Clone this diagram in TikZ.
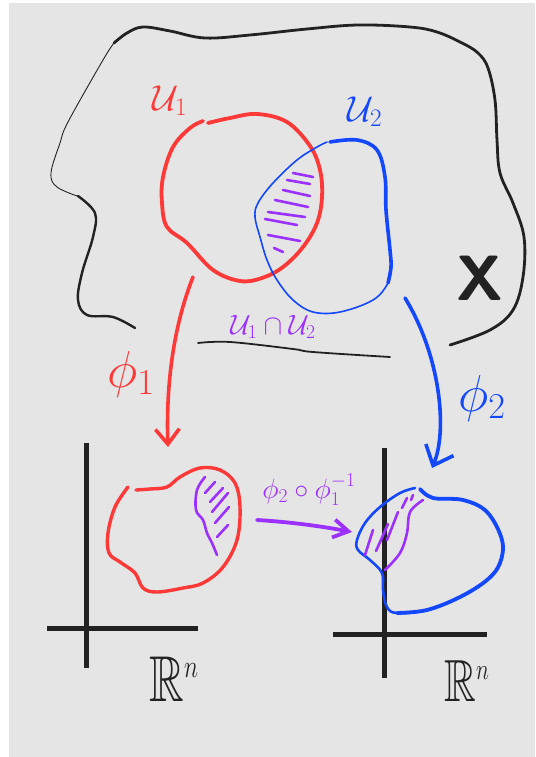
\RequirePackage{fix-cm}
\documentclass[tikz,border=0pt]{standalone}
\usepackage{amssymb}
\usepackage{graphicx}
\usetikzlibrary{arrows.meta}
\definecolor{bg}{HTML}{E5E5E5}
\definecolor{pred}{HTML}{FF3838}
\definecolor{pblue}{HTML}{1448FF}
\definecolor{ppur}{HTML}{9B30FF}
\definecolor{ink}{HTML}{222222}
\begin{document}
\begin{tikzpicture}[x=1pt,y=-1pt,line cap=round,line join=round,
  inkline/.style={ink,line width=#1},
  hatch/.style={ppur,line width=2.6pt},
  lbl/.style={inner sep=0pt,outer sep=0pt},
  axis/.style={ink,line width=5pt,line cap=butt},
  redarrow/.style={pred,line width=3.6pt,-{Straight Barb[length=15pt,width=24pt]}},
  bluearrow/.style={pblue,line width=3.6pt,-{Straight Barb[length=17pt,width=30pt]}},
  purarrow/.style={ppur,line width=3.8pt,-{Straight Barb[length=15pt,width=18pt]}}]
\useasboundingbox (0,0) rectangle (535,757);
\fill[bg] (9,3) rectangle (535,757);

% outline of X
\draw[inkline=2.8pt] plot[smooth,tension=0.6] coordinates {(114,43) (127,33) (143,27) (170,31) (205,38) (250,35) (307,29) (358,25) (410,27) (437,32) (462,43) (478,53) (488,68) (495,100) (497,140) (500,173) (513,203) (524,237) (523,277) (513,310) (490,330) (450,345)};
\draw[inkline=0.9pt] plot[smooth,tension=0.6] coordinates {(114,43) (103,60) (68,122) (60,143) (51,173) (57,187) (80,197)};
\draw[inkline=2.4pt] plot[smooth,tension=0.6] coordinates {(78,196) (95,213) (93,237) (82,273) (78,300) (87,315) (113,317) (135,328)};
\node[lbl,ink,font=\fontsize{64}{64}\selectfont\sffamily\bfseries] (lx) at (480,278) {X};

% U1
\draw[pred,line width=3.8pt] plot[smooth,tension=0.6] coordinates {(208,123) (230,118) (257,114) (287,122) (310,146) (320,170) (322,197) (317,223) (303,247) (283,267) (262,278) (240,281) (213,270) (187,243) (167,227) (162,203) (163,177) (173,147) (190,128) (203,121)};
\node[lbl,pred,font=\fontsize{36}{36}\selectfont] (lu1) at (170,101) {$\mathcal{U}_{1}$};

% U2
\draw[pblue,line width=1.6pt] plot[smooth,tension=0.6] coordinates {(330,142) (357,140) (377,150) (385,177) (386,210) (390,250) (391,267) (388,283) (373,300) (340,312) (313,312) (293,300) (277,280) (267,260) (260,237) (255,217) (258,203) (273,183) (297,160) (317,147) (327,142)};
\draw[pblue,line width=3.6pt] plot[smooth,tension=0.6] coordinates {(330,142) (357,140) (377,150) (385,177) (386,210) (390,250) (391,267) (388,283)};
\node[lbl,pblue,font=\fontsize{36}{36}\selectfont] (lu2) at (365,112) {$\mathcal{U}_{2}$};

% intersection hatching
\draw[hatch] (293,173) -- (313,177);
\draw[hatch] (287,180) -- (310,184);
\draw[hatch] (283,190) -- (310,196);
\draw[hatch] (275,200) -- (308,207);
\draw[hatch] (268,212) -- (305,217);
\draw[hatch] (265,219) -- (297,225);
\draw[hatch] (268,235) -- (300,241);
\draw[hatch] (274,248) -- (283,252);

% label U1 cap U2
\draw[inkline=1.8pt] plot[smooth,tension=0.6] coordinates {(198,343) (230,342) (293,349) (313,352) (390,357)};
\node[lbl,ppur,font=\fontsize{28}{28}\selectfont] (lint) at (273,327) {$\mathcal{U}_{1}\cap\mathcal{U}_{2}$};

% phi1 arrow
\coordinate (p1s) at (193,277);
\coordinate (p1e) at (168,447);
\draw[redarrow] (p1s) .. controls (172,330) and (166,390) .. (p1e);
\node[lbl,pred,font=\fontsize{52}{52}\selectfont] (lphi1) at (131,374) {$\phi_{1}$};

% phi2 arrow
\coordinate (p2s) at (405,298);
\coordinate (p2e) at (432,468);
\draw[bluearrow] (p2s) .. controls (440,355) and (448,430) .. (p2e);
\node[lbl,pblue,font=\fontsize{52}{52}\selectfont] (lphi2) at (482,398) {$\phi_{2}$};

% left plane
\draw[axis] (86,443) -- (86,668);
\draw[axis] (47,628) -- (198,628);
\draw[pred,line width=3.4pt] plot[smooth,tension=0.6] coordinates {(128,487) (115,507) (108,533) (109,553) (120,562) (135,573) (143,588) (157,592) (183,588) (203,583) (223,567) (237,540) (240,507) (235,483) (220,470) (200,468) (180,477) (167,487) (150,489) (136,490)};
\draw[ppur,line width=2.6pt] plot[smooth,tension=0.6] coordinates {(205,477) (197,490) (196,510) (203,520) (207,533) (212,543) (217,555)};
\draw[hatch] (205,493) -- (215,482);
\draw[hatch] (210,502) -- (223,488);
\draw[hatch] (212,512) -- (228,493);
\draw[hatch] (215,523) -- (229,507);
\draw[hatch] (217,537) -- (228,525);
\node[lbl,ink,font=\fontsize{48}{48}\selectfont] (lr1) at (174,679) {\scalebox{1}[1.35]{$\mathbb{R}^{\scriptscriptstyle n}$}};

% transition arrow
\coordinate (p3s) at (257,520);
\coordinate (p3e) at (352,532);
\draw[purarrow] (p3s) .. controls (290,522) and (320,526) .. (p3e);
\node[lbl,ppur,font=\fontsize{28}{28}\selectfont] (ltr) at (309,490) {$\phi_{2}\circ\phi_{1}^{-1}$};

% right plane
\draw[axis] (384,448) -- (384,678);
\draw[axis] (333,634) -- (487,634);
\draw[pblue,line width=2.6pt] plot[smooth,tension=0.6] coordinates {(420,489) (433,498) (463,500) (487,512) (502,540) (500,563) (487,580) (460,597) (427,610) (397,613) (387,607) (383,590) (382,573) (370,560) (358,550) (357,540) (365,523) (380,507) (400,493) (415,488)};
\draw[pblue,line width=3.8pt] plot[smooth,tension=0.6] coordinates {(420,489) (433,498) (463,500) (487,512) (502,540) (500,563) (487,580) (460,597) (427,610) (397,613)};
\draw[ppur,line width=2.6pt] plot[smooth,tension=0.6] coordinates {(423,500) (410,512) (407,533) (400,553) (385,570)};
\draw[hatch] (365,555) -- (373,530);
\draw[hatch] (376,551) -- (388,524);
\draw[hatch] (387,540) -- (398,512);
\draw[hatch] (402,508) -- (407,498);
\draw[hatch] (411,500) -- (413,495);
\node[lbl,ink,font=\fontsize{44}{44}\selectfont] (lr2) at (467,681) {\scalebox{1}[1.35]{$\mathbb{R}^{\scriptscriptstyle n}$}};
\end{tikzpicture}
\end{document}
